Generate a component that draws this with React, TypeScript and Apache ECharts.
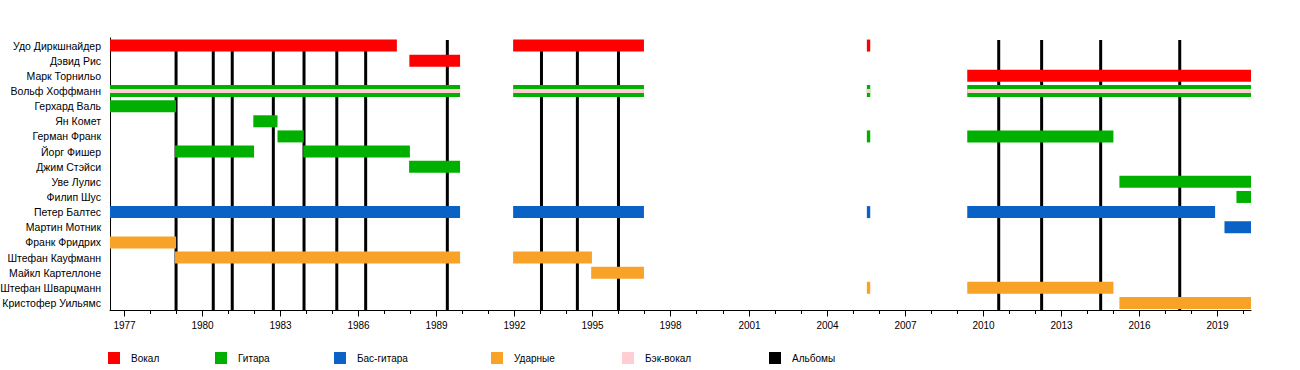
import React, { useEffect, useRef } from "react";
import * as echarts from "echarts";

const MEMBERS: string[] = [
  "Удо Диркшнайдер",
  "Дэвид Рис",
  "Марк Торнильо",
  "Вольф Хоффманн",
  "Герхард Валь",
  "Ян Комет",
  "Герман Франк",
  "Йорг Фишер",
  "Джим Стэйси",
  "Уве Лулис",
  "Филип Шус",
  "Петер Балтес",
  "Мартин Мотник",
  "Франк Фридрих",
  "Штефан Кауфманн",
  "Майкл Картеллоне",
  "Штефан Шварцманн",
  "Кристофер Уильямс",
];

const START = 1976.45;
const END = 2020.32;

type Span = [string, number, number];

const VOCAL_SPANS: Span[] = [
  ["Удо Диркшнайдер", START, 1987.48],
  ["Удо Диркшнайдер", 1991.95, 1996.98],
  ["Удо Диркшнайдер", 2005.55, 2005.68],
  ["Дэвид Рис", 1987.96, 1989.91],
  ["Марк Торнильо", 2009.41, END],
];

const GUITAR_SPANS: Span[] = [
  ["Вольф Хоффманн", START, 1989.91],
  ["Вольф Хоффманн", 1991.95, 1996.98],
  ["Вольф Хоффманн", 2005.55, 2005.68],
  ["Вольф Хоффманн", 2009.41, END],
  ["Герхард Валь", START, 1978.99],
  ["Ян Комет", 1981.96, 1982.89],
  ["Герман Франк", 1982.89, 1983.9],
  ["Герман Франк", 2005.55, 2005.68],
  ["Герман Франк", 2009.41, 2015.03],
  ["Йорг Фишер", 1978.95, 1981.99],
  ["Йорг Фишер", 1983.88, 1987.98],
  ["Джим Стэйси", 1987.95, 1989.91],
  ["Уве Лулис", 2015.26, END],
  ["Филип Шус", 2019.76, END],
];

const BASS_SPANS: Span[] = [
  ["Петер Балтес", START, 1989.91],
  ["Петер Балтес", 1991.95, 1996.98],
  ["Петер Балтес", 2005.55, 2005.68],
  ["Петер Балтес", 2009.41, 2018.94],
  ["Мартин Мотник", 2019.3, END],
];

const DRUM_SPANS: Span[] = [
  ["Франк Фридрих", START, 1978.99],
  ["Штефан Кауфманн", 1978.95, 1989.91],
  ["Штефан Кауфманн", 1991.95, 1994.98],
  ["Майкл Картеллоне", 1994.95, 1996.98],
  ["Штефан Шварцманн", 2005.55, 2005.68],
  ["Штефан Шварцманн", 2009.41, 2015.03],
  ["Кристофер Уильямс", 2015.26, END],
];

const BACKING_SPANS: Span[] = [
  ["Вольф Хоффманн", START, 1989.91],
  ["Вольф Хоффманн", 1991.95, 1996.98],
  ["Вольф Хоффманн", 2005.55, 2005.68],
  ["Вольф Хоффманн", 2009.41, END],
];

const ALBUMS: number[] = [
  1978.99, 1980.42, 1981.15, 1982.73, 1983.91, 1985.17, 1986.28, 1989.42,
  1993.04, 1994.42, 1996.0, 2010.62, 2012.27, 2014.54, 2017.58,
];

const TICK_YEARS: number[] = [
  1977, 1978, 1979, 1980, 1981, 1982, 1983, 1984, 1985, 1986, 1987, 1988,
  1989, 1990, 1991, 1992, 1993, 1994, 1995, 1996, 1997, 1998, 1999, 2000,
  2001, 2002, 2003, 2004, 2005, 2006, 2007, 2008, 2009, 2010, 2011, 2012,
  2013, 2014, 2015, 2016, 2017, 2018, 2019, 2020,
];

const TICK_LABELS: number[] = [
  1977, 1980, 1983, 1986, 1989, 1992, 1995, 1998, 2001, 2004, 2007, 2010,
  2013, 2016, 2019,
];

const LEGEND_LABELS: string[] = [
  "Вокал",
  "Гитара",
  "Бас-гитара",
  "Ударные",
  "Бэк-вокал",
  "Альбомы",
];

const COLORS = {
  vocal: "#ff0000",
  guitar: "#00b000",
  bass: "#0a62c6",
  drums: "#f9a228",
  backing: "#ffcdd3",
  albums: "#000000",
};

const LEGEND_COLORS: string[] = [
  COLORS.vocal,
  COLORS.guitar,
  COLORS.bass,
  COLORS.drums,
  COLORS.backing,
  COLORS.albums,
];

const LEGEND_X: number[] = [108, 215, 334, 491, 622, 769];

const FONT = "'Liberation Sans', Arial, Helvetica, sans-serif";
const BAR_H = 12;
const STRIPE_H = 4;

function spanSeries(name: string, spans: Span[], color: string, height: number, z: number) {
  return {
    type: "custom",
    name,
    z,
    clip: false,
    encode: { x: [0, 1], y: 2 },
    data: spans.map(([m, s, e]) => [s, e, MEMBERS.indexOf(m)]),
    renderItem: (params: any, api: any) => {
      const s = api.value(0);
      const e = api.value(1);
      const row = api.value(2);
      const p0 = api.coord([s, row]);
      const p1 = api.coord([e, row]);
      return {
        type: "rect",
        shape: {
          x: p0[0],
          y: p0[1] - height / 2,
          width: Math.max(p1[0] - p0[0], 1),
          height,
        },
        style: { fill: color },
      };
    },
  };
}

export default function App() {
  const ref = useRef<HTMLDivElement>(null);

  useEffect(() => {
    if (!ref.current) return;
    const chart = echarts.init(ref.current, null, { renderer: "svg" });

    const legendGraphics: any[] = [];
    LEGEND_LABELS.forEach((label, i) => {
      legendGraphics.push({
        type: "rect",
        left: LEGEND_X[i],
        top: 352,
        shape: { x: 0, y: 0, width: 12, height: 12 },
        style: { fill: LEGEND_COLORS[i] },
      });
      legendGraphics.push({
        type: "text",
        x: LEGEND_X[i] + 23,
        y: 358,
        style: {
          text: label,
          fill: "#000",
          font: `10px ${FONT}`,
          verticalAlign: "middle",
          align: "left",
        },
      });
    });

    const option: any = {
      animation: false,
      backgroundColor: "#ffffff",
      grid: {
        left: 110,
        right: 49,
        top: 38,
        bottom: 59.5,
        containLabel: false,
        outerBoundsMode: "none",
      },
      xAxis: {
        type: "value",
        min: START,
        max: END,
        axisLine: { show: true, lineStyle: { color: "#000", width: 1 } },
        axisTick: { show: false },
        axisLabel: { show: false },
        splitLine: { show: false },
      },
      yAxis: {
        type: "category",
        data: MEMBERS,
        inverse: true,
        axisLine: { show: true, lineStyle: { color: "#000", width: 1 } },
        axisTick: { show: false },
        axisLabel: {
          margin: 9,
          color: "#000",
          fontSize: 10.5,
          fontFamily: FONT,
        },
        splitLine: { show: false },
      },
      graphic: legendGraphics,
      series: [
        {
          type: "custom",
          name: "Альбомы",
          z: 1,
          clip: false,
          encode: { x: 0 },
          data: ALBUMS.map((a) => [a]),
          renderItem: (params: any, api: any) => {
            const cs = params.coordSys;
            const x = api.coord([api.value(0), 0])[0];
            return {
              type: "line",
              shape: { x1: x, y1: cs.y + 2, x2: x, y2: cs.y + cs.height },
              style: { stroke: COLORS.albums, lineWidth: 3 },
            };
          },
        },
        spanSeries("Вокал", VOCAL_SPANS, COLORS.vocal, BAR_H, 2),
        spanSeries("Гитара", GUITAR_SPANS, COLORS.guitar, BAR_H, 2),
        spanSeries("Бас-гитара", BASS_SPANS, COLORS.bass, BAR_H, 2),
        spanSeries("Ударные", DRUM_SPANS, COLORS.drums, BAR_H, 2),
        spanSeries("Бэк-вокал", BACKING_SPANS, COLORS.backing, STRIPE_H, 3),
        {
          type: "custom",
          name: "ticks",
          z: 4,
          clip: false,
          encode: { x: 0 },
          data: TICK_YEARS.map((y) => [y]),
          renderItem: (params: any, api: any) => {
            const cs = params.coordSys;
            const year = api.value(0);
            const x = Math.round(api.coord([year, 0])[0]) + 0.5;
            const axisY = cs.y + cs.height;
            const major = TICK_LABELS.indexOf(year) >= 0;
            const children: any[] = [
              {
                type: "line",
                shape: { x1: x, y1: axisY, x2: x, y2: axisY + (major ? 6 : 3.5) },
                style: { stroke: "#000", lineWidth: 1 },
              },
            ];
            if (major) {
              children.push({
                type: "text",
                x,
                y: axisY + 15,
                style: {
                  text: String(year),
                  fill: "#000",
                  font: `10px ${FONT}`,
                  align: "center",
                  verticalAlign: "middle",
                },
              });
            }
            return { type: "group", children };
          },
        },
      ],
    };

    chart.setOption(option);
    return () => chart.dispose();
  }, []);

  return (
    <div
      ref={ref}
      style={{ position: "fixed", left: 0, top: 0, width: 1300, height: 370, background: "#fff" }}
    />
  );
}
